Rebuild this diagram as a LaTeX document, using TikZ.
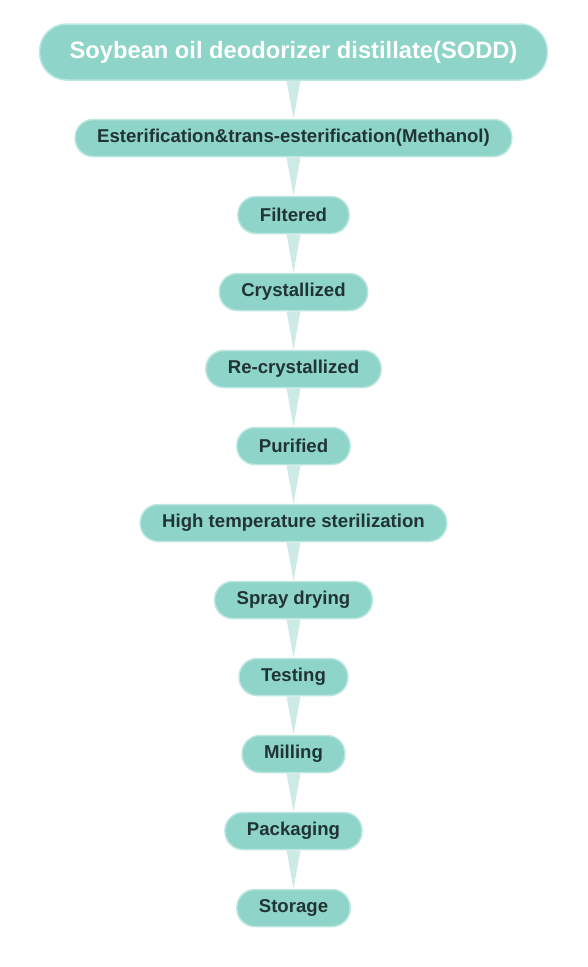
\documentclass[tikz,border=0pt]{standalone}
\usepackage{fontspec}
\setmainfont{Liberation Sans}
\usetikzlibrary{arrows}

\definecolor{stepfill}{HTML}{8ED4C8}
\definecolor{stepline}{HTML}{BCE6E0}
\definecolor{linkfill}{HTML}{CDEAE6}
\definecolor{steptext}{HTML}{213434}

\begin{document}
\begin{tikzpicture}
  [x=1pt,y=1pt,every node/.style={draw=stepline,fill=stepfill,line width=1.5pt,
   rounded corners=18pt,minimum height=37pt,inner xsep=22pt,text=steptext,
   font=\fontsize{18.6}{20}\selectfont\bfseries}]

  \tikzstyle{head} = [minimum height=56pt, rounded corners=27pt, inner xsep=30pt,
                      text=white, font=\fontsize{23.7}{26}\selectfont\bfseries]
  \tikzstyle{wedge} = [draw=none, fill=linkfill,
                       to path={([xshift=-7pt]\tikztostart.south) -- ([xshift=7pt]\tikztostart.south)
                                -- (\tikztotarget.north) -- cycle}]

  \useasboundingbox (0,0) rectangle (587,-967);

  \node[head] (1)  at (293.5,-52)  {Soybean oil deodorizer distillate(SODD)};
  \node       (2)  at (293.5,-138) {Esterification\&trans-esterification(Methanol)};
  \node       (3)  at (293.5,-215) {Filtered};
  \node       (4)  at (293.5,-292) {Crystallized};
  \node       (5)  at (293.5,-369) {Re-crystallized};
  \node       (6)  at (293.5,-446) {Purified};
  \node       (7)  at (293.5,-523) {High temperature sterilization};
  \node       (8)  at (293.5,-600) {Spray drying};
  \node       (9)  at (293.5,-677) {Testing};
  \node       (10) at (293.5,-754) {Milling};
  \node       (11) at (293.5,-831) {Packaging};
  \node       (12) at (293.5,-908) {Storage};

  \path (1)  edge[wedge] (2)
        (2)  edge[wedge] (3)
        (3)  edge[wedge] (4)
        (4)  edge[wedge] (5)
        (5)  edge[wedge] (6)
        (6)  edge[wedge] (7)
        (7)  edge[wedge] (8)
        (8)  edge[wedge] (9)
        (9)  edge[wedge] (10)
        (10) edge[wedge] (11)
        (11) edge[wedge] (12);
\end{tikzpicture}
\end{document}
